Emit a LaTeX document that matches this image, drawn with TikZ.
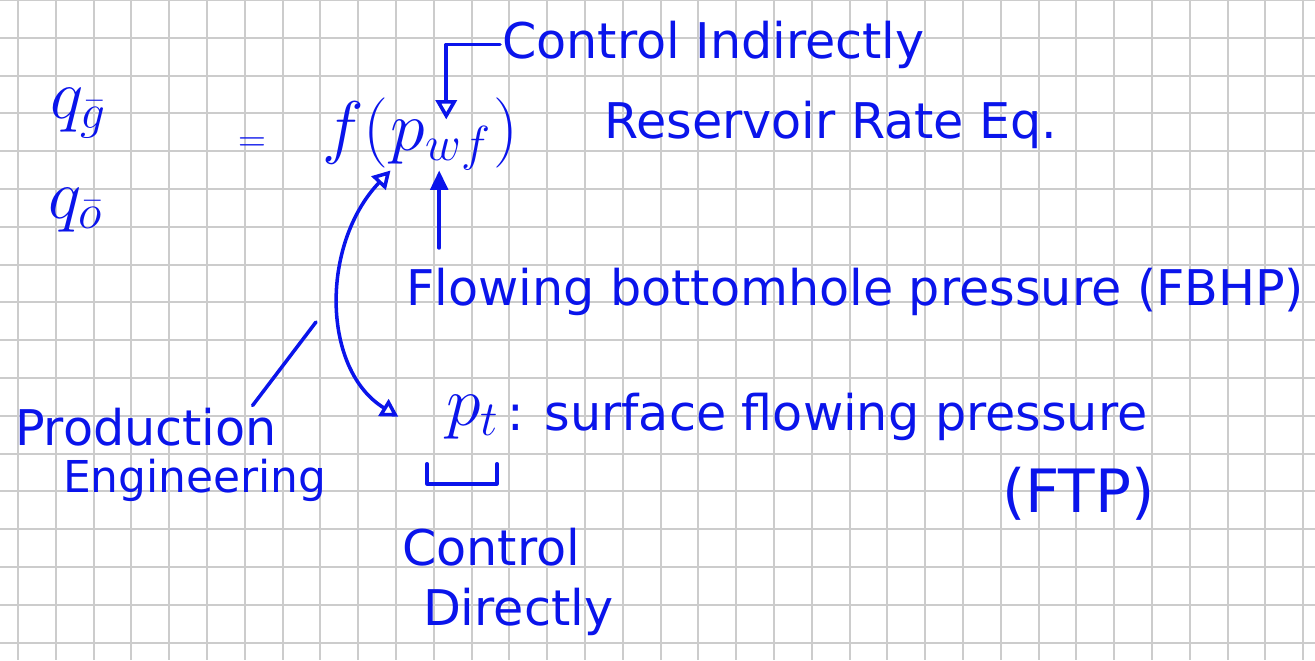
\RequirePackage{fix-cm}
\documentclass[tikz,border=0pt]{standalone}
\usepackage{fontspec}
\setmainfont{DejaVu Sans}
\usepackage{amsmath}
\usetikzlibrary{arrows.meta}

\definecolor{ink}{RGB}{10,20,235}
\definecolor{paper}{RGB}{204,204,204}

\begin{document}
\begin{tikzpicture}[x=0.02cm, y=-0.02cm,
    hand/.style={ink, inner sep=1pt, font=\fontsize{28}{34}\selectfont},
    big/.style={ink, inner sep=1pt, font=\fontsize{40}{48}\selectfont},
    pen/.style={ink, line width=2pt, line cap=round, line join=round},
    gridline/.style={paper, line width=1.1pt}]

  % Paper
  \fill[white] (0,0) rectangle (1315,660);
  \useasboundingbox (0,0) rectangle (1315,660);
  \foreach \i in {0,...,34}
    \draw[gridline] (18+37.8*\i,0) -- (18+37.8*\i,660);
  \foreach \j in {0,...,17}
    \draw[gridline] (0,37.8*\j) -- (1315,37.8*\j);

  % Rates
  \node[big, anchor=base west] (qg) at (48,118) {$q_{\bar g}$};
  \node[big, anchor=base west] (qo) at (46,218) {$q_{\bar o}$};
  \node[ink, font=\fontsize{22}{26}\selectfont] (eq) at (252,145) {$=$};

  % Reservoir rate equation
  \node[big, anchor=base west] (fn) at (320,150) {$f($};
  \node[big, anchor=base west, inner sep=0pt] (pwf) at (fn.base east) {$p_{wf}$};
  \node[big, anchor=base west] (cp) at (pwf.base east) {$)$};
  \node[hand, anchor=base west] (rre) at (602,138) {Reservoir Rate Eq.};

  % Control indirectly
  \node[hand, anchor=base west] (ci) at (500,58) {Control Indirectly};
  \draw[pen, -{Triangle[open, length=11pt, width=12pt]}] (ci.west) -| ([xshift=3pt]pwf.north);

  % Flowing bottomhole pressure
  \node[hand, anchor=base west] (fbhp) at (404,305) {Flowing bottomhole pressure (FBHP)};
  \coordinate (fb) at ([xshift=-1pt]pwf.south);
  \draw[pen, -{Triangle[length=11pt, width=10pt]}, shorten <=10pt] (fb |- fbhp.north) -- (fb);

  % Surface flowing pressure
  \node[big, anchor=base west] (pt) at (444,425) {$p_t$};
  \node[hand, anchor=base west] (ftp) at (505,430) {: surface flowing pressure};
  \node[hand, anchor=base west, font=\fontsize{34}{40}\selectfont] (ftpab) at (1000,512) {(FTP)};

  % Production engineering
  \node[hand, anchor=base west] (prod) at (13,445) {Production};
  \node[hand, anchor=base west, font=\fontsize{25}{30}\selectfont] (eng) at (61,492) {Engineering};
  \coordinate (pe) at (316,322);
  \coordinate (ptl) at ([xshift=-26pt]pt.west);
  \draw[pen] ([xshift=-15pt]prod.north east) -- (pe);
  \draw[pen, {Triangle[open, length=10pt, width=11pt]}-{Triangle[open, length=10pt, width=11pt]}]
    (pwf.south west) .. controls (320,245) and (322,370) .. (ptl);

  % Control directly
  \draw[pen] (pt.south west) ++(-17,23) -- ++(0,20) -- ++(70,0) -- ++(0,-20);
  \node[hand, anchor=base west] (cd1) at (400,565) {Control};
  \node[hand, anchor=base west] (cd2) at (421,625) {Directly};

\end{tikzpicture}
\end{document}
